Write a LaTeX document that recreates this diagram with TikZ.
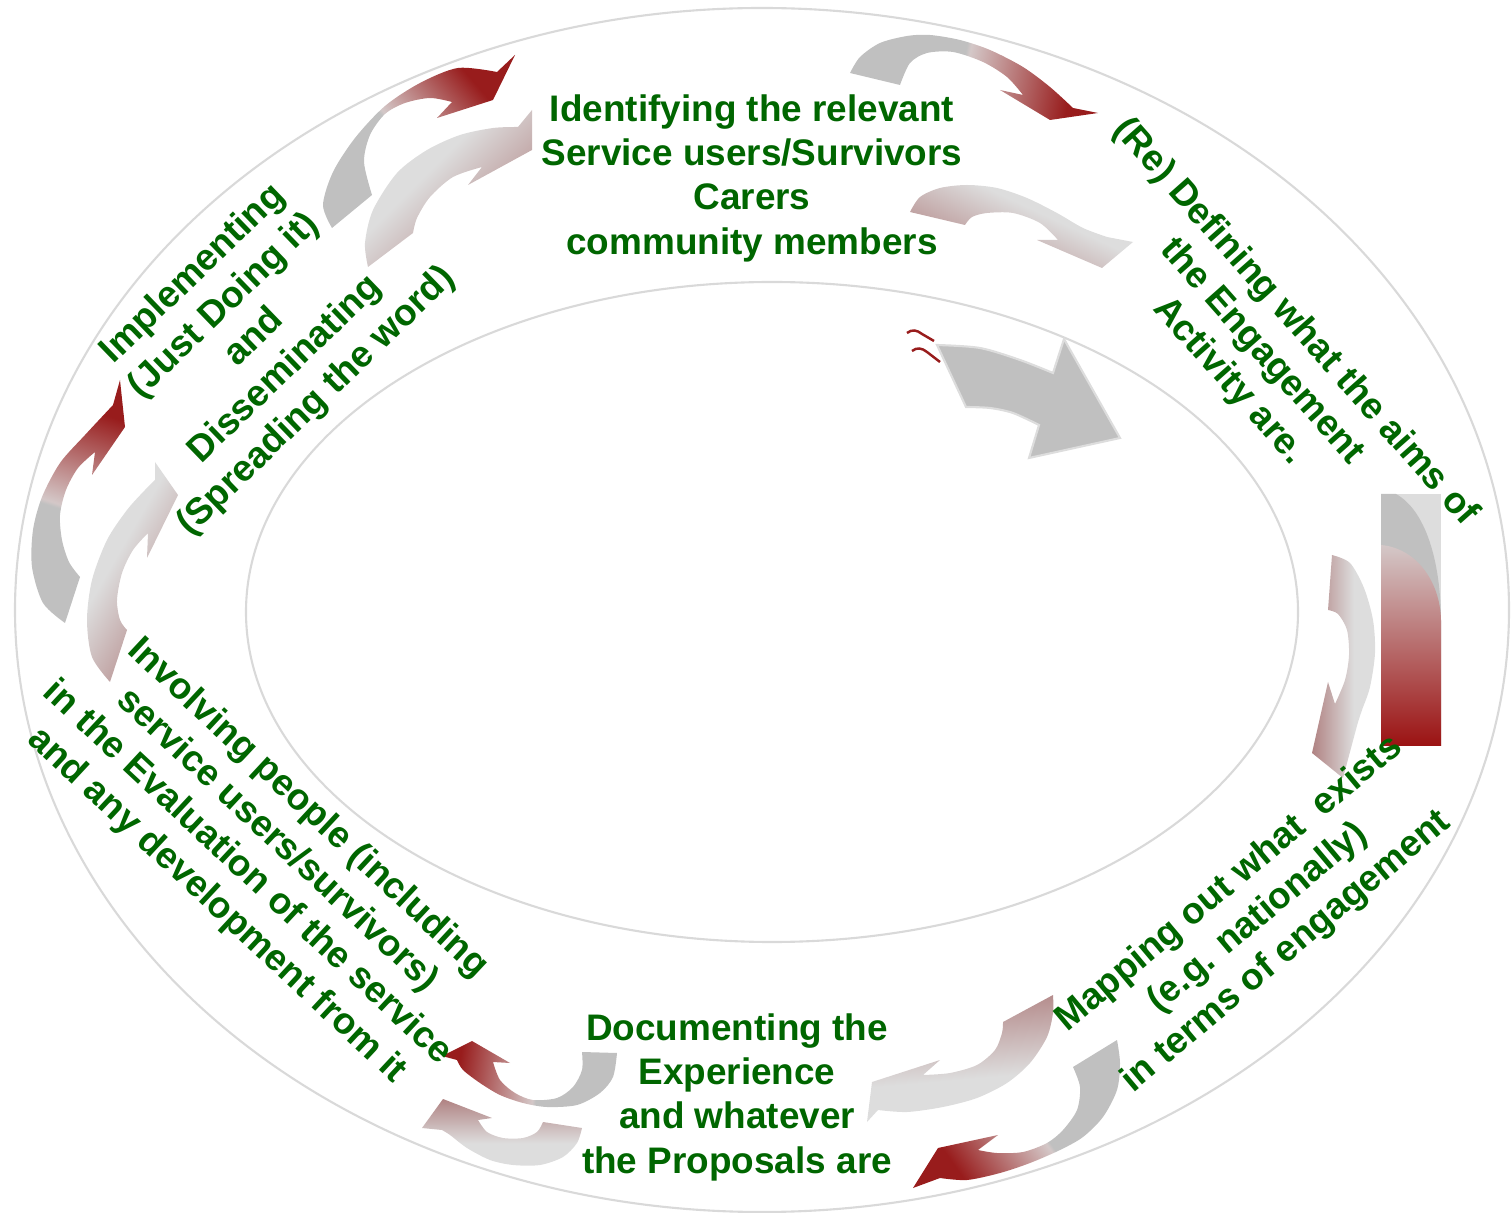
\documentclass[tikz,border=0pt]{standalone}
\usepackage{fontspec}
\setmainfont{Liberation Sans}
\definecolor{stagegreen}{RGB}{0,102,0}
\definecolor{ringgray}{RGB}{217,217,217}
\definecolor{tailgray}{RGB}{192,192,192}
\definecolor{palegray}{RGB}{221,221,221}
\definecolor{dustyrose}{RGB}{172,122,122}
\definecolor{blushgray}{RGB}{212,200,200}
\definecolor{deepred}{RGB}{152,28,28}
\definecolor{barred}{RGB}{155,18,18}
\pgfdeclarehorizontalshading{palearrow}{100bp}{color(0bp)=(palegray); color(42bp)=(palegray); color(78bp)=(dustyrose); color(100bp)=(dustyrose)}
\pgfdeclarehorizontalshading{darkarrow}{100bp}{color(0bp)=(tailgray); color(47bp)=(tailgray); color(48bp)=(blushgray); color(72bp)=(deepred); color(100bp)=(deepred)}
\tikzset{
        stage/.style={text=stagegreen, align=center, inner sep=0pt,
                      font=\bfseries\fontsize{10.5}{12.6}\selectfont},
        ring/.style={draw=ringgray, line width=0.6pt},
        palebend/.style={shading=palearrow},
        darkbend/.style={shading=darkarrow},
        squiggle/.style={draw=deepred, line width=0.7pt},
 }
\begin{document}
\begin{tikzpicture}[x=0.01cm, y=-0.01cm]
    \useasboundingbox (0,0) rectangle (1512,1213);

    % the two rings
    \path[ring] (762,610) ellipse [x radius=747, y radius=602];
    \path[ring] (772,612) ellipse [x radius=526, y radius=330];

    % top left
    \shade[darkbend, shading angle=41] plot[smooth] coordinates {(332,228) (323,205) (333,172) (355,138) (385,106) (420,83) (458,68) (497,72)} -- (515,55) -- (493,100) -- (437,118) -- (452,102) -- plot[smooth] coordinates {(452,102) (430,98) (405,103) (385,114) (370,135) (364,162) (372,195)} -- cycle;
    \shade[palebend, shading angle=-45] plot[smooth] coordinates {(368,267) (365,243) (373,210) (397,173) (427,150) (460,135) (493,128) (518,127)} -- (532,110) -- (532,150) -- (468,185) -- (482,167) -- plot[smooth] coordinates {(482,167) (453,177) (430,197) (417,218) (413,233)} -- cycle;

    % top right
    \shade[darkbend, shading angle=-11] plot[smooth] coordinates {(850,73) (860,57) (880,43) (907,36) (930,35) (960,40) (990,50) (1023,67) (1050,87) (1073,108)} -- (1098,113) -- (1050,120) -- (1000,90) -- (1023,95) -- plot[smooth] coordinates {(1023,95) (1007,77) (983,62) (953,52) (927,53) (910,63) (900,85)} -- cycle;
    \shade[palebend, shading angle=-115] plot[smooth] coordinates {(910,212) (920,197) (940,188) (967,185) (997,188) (1027,198) (1057,213) (1083,228) (1107,237)} -- (1133,242) -- (1102,268) -- (1037,240) -- (1058,240) -- plot[smooth] coordinates {(1058,240) (1040,223) (1013,213) (987,213) (972,217) (965,225)} -- cycle;

    % big grey one
    \filldraw[fill=tailgray, draw=palegray, line width=0.6pt] plot[smooth] coordinates {(937,345) (980,348) (1020,360) (1053,373)} -- (1064,339) -- (1120,438) -- (1029,458) -- (1039,425) -- plot[smooth] coordinates {(1039,425) (1013,413) (990,408) (966,407)} -- cycle;
    \draw[squiggle] (907,333) .. controls (912,329) and (917,330) .. (922,334) -- (934,341);
    \draw[squiggle] (912,351) .. controls (917,347) and (922,348) .. (927,352) -- (940,362);

    % right
    \shade[palebend, shading angle=180] plot[smooth] coordinates {(1332,555) (1350,563) (1364,588) (1373,620) (1375,653) (1370,687) (1362,710) (1358,722)} -- (1343,778) -- (1312,753) -- (1328,682) -- (1335,704) -- plot[smooth] coordinates {(1335,704) (1345,680) (1349,655) (1347,630) (1338,614) (1328,610)} -- cycle;
    \fill[palegray] (1381,494) rectangle (1441,746);
    \fill[tailgray] (1381,494) -- (1396,494) .. controls (1425,510) and (1441,560) .. (1441,623) -- (1441,746) -- (1381,746) -- cycle;
    \shade[top color=blushgray, bottom color=barred] (1381,545) .. controls (1415,548) and (1440,580) .. (1441,620) -- (1441,746) -- (1381,746) -- cycle;

    % bottom right
    \shade[palebend, shading angle=95] plot[smooth] coordinates {(1053,995) (1053,1013) (1047,1037) (1030,1063) (1007,1083) (977,1098) (943,1107) (907,1112) (878,1110)} -- (867,1122) -- (872,1082) -- (940,1060) -- (923,1075) -- plot[smooth] coordinates {(923,1075) (950,1073) (977,1065) (995,1050) (1002,1033) (1003,1022)} -- cycle;
    \shade[darkbend, shading angle=-145] plot[smooth] coordinates {(1117,1040) (1120,1063) (1117,1090) (1103,1117) (1083,1137) (1060,1150) (1030,1163) (1000,1173) (967,1180) (940,1178)} -- (913,1188) -- (938,1148) -- (998,1135) -- (978,1150) -- plot[smooth] coordinates {(978,1150) (997,1153) (1023,1152) (1047,1143) (1063,1130) (1077,1110) (1080,1087) (1073,1067)} -- cycle;

    % bottom left
    \shade[darkbend, shading angle=172] plot[smooth] coordinates {(617,1053) (613,1077) (600,1093) (577,1105) (547,1107) (523,1103) (500,1095) (480,1083) (463,1070) (457,1060)} -- (442,1056) -- (472,1041) -- (510,1063) -- (493,1062) -- plot[smooth] coordinates {(493,1062) (500,1080) (515,1093) (533,1100) (557,1098) (573,1087) (582,1070) (582,1052)} -- cycle;
    \shade[palebend, shading angle=90] plot[smooth] coordinates {(582,1128) (577,1143) (563,1157) (540,1165) (513,1165) (490,1160) (467,1148) (450,1135) (442,1130)} -- (422,1128) -- (443,1099) -- (492,1118) -- (478,1120) -- plot[smooth] coordinates {(478,1120) (487,1132) (503,1138) (523,1138) (537,1132) (543,1122)} -- cycle;

    % left
    \shade[darkbend, shading angle=72] plot[smooth] coordinates {(65,623) (43,603) (32,567) (33,530) (42,497) (60,463) (85,435) (113,405)} -- (120,380) -- (125,427) -- (92,475) -- (95,452) -- plot[smooth] coordinates {(95,452) (78,468) (66,490) (60,515) (62,540) (69,562) (80,577)} -- cycle;
    \shade[palebend, shading angle=-30] plot[smooth] coordinates {(110,682) (92,657) (87,620) (92,580) (107,540) (127,510) (145,490) (155,480)} -- (155,462) -- (178,495) -- (147,558) -- (148,533) -- plot[smooth] coordinates {(148,533) (133,550) (122,573) (117,600) (120,620) (127,630)} -- cycle;

    % the stages
    \node[stage] (identify) at (752,178) {Identifying the relevant\\Service users/Survivors\\Carers\\community members};
    \node[stage, rotate=-48.5] (defining) at (1262,352) {(Re) Defining what the aims of\\the Engagement\\Activity are.};
    \node[stage, rotate=40] (mapping) at (1258,918) {Mapping out what~ exists\\(e.g. nationally)\\in terms of engagement};
    \node[stage] (documenting) at (737,1097) {Documenting the\\Experience\\and whatever\\the Proposals are};
    \node[stage, rotate=-43] (involving) at (262,857) {Involving people (including\\service users/survivors)\\in the Evaluation of the service\\and any development from it};
    \node[stage, rotate=44] (implementing) at (255,338) {Implementing\\(Just Doing it)\\and\\Disseminating\\(Spreading the word)};
\end{tikzpicture}
\end{document}
